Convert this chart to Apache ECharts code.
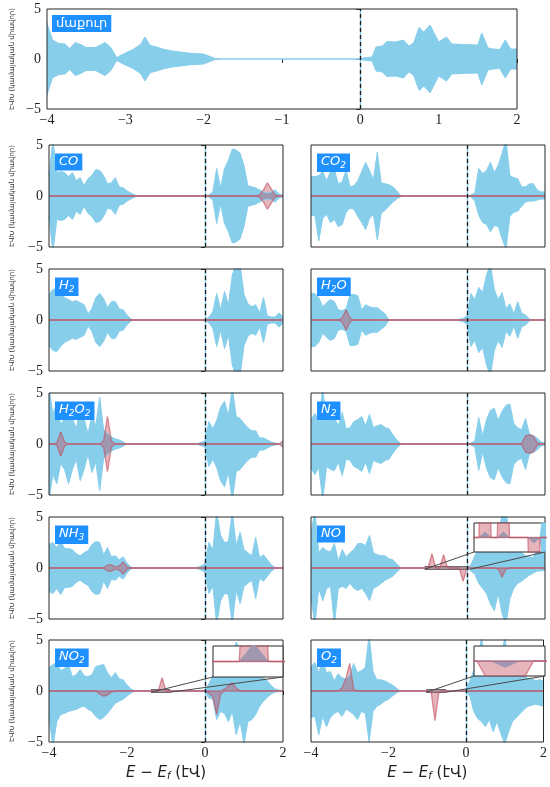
<!DOCTYPE html>
<html>
<head>
<meta charset="utf-8">
<script src="https://cdn.jsdelivr.net/npm/echarts@6/dist/echarts.min.js"></script>
<style>
  html, body { margin: 0; padding: 0; background: #fff; }
  #chart { width: 550px; height: 787px; }
</style>
</head>
<body>
<div id="chart"></div>
<script>
// Energy grid relative to the Fermi level (eV): -4.0 … -1.8 | -1.7 … -0.1 | 0.0 … 2.0
const energy = [
  -4.0,-3.9,-3.8,-3.7,-3.6,-3.5,-3.4,-3.3,-3.2,-3.1,-3.0,-2.9,-2.8,-2.7,-2.6,-2.5,-2.4,-2.3,-2.2,-2.1,-2.0,-1.9,-1.8,
  -1.7,-1.6,-1.5,-1.4,-1.3,-1.2,-1.1,-1.0,-0.9,-0.8,-0.7,-0.6,-0.5,-0.4,-0.3,-0.2,-0.1,
  0.0,0.1,0.2,0.3,0.4,0.5,0.6,0.7,0.8,0.9,1.0,1.1,1.2,1.3,1.4,1.5,1.6,1.7,1.8,1.9,2.0
];

// Clean surface (own, finer sampling)
const pristineEnergy = [-4.0,-3.93,-3.85,-3.77,-3.71,-3.64,-3.57,-3.5,-3.38,-3.26,-3.19,-3.11,-3.0,-2.9,-2.8,-2.75,-2.68,-2.6,-2.5,-2.4,-2.3,-2.2,-2.1,-2.0,-1.92,-1.85,-1.78,-0.05,0.0,0.08,0.15,0.2,0.28,0.34,0.45,0.55,0.62,0.68,0.75,0.81,0.89,1.0,1.1,1.17,1.3,1.5,1.55,1.63,1.7,1.78,1.85,1.92,2.0];
const pristineDos = [3.6,1.9,1.55,1.5,1.05,1.65,1.45,1.15,1.15,1.65,1.2,0.15,0.6,0.95,1.5,2.2,1.35,1.2,0.95,0.8,0.7,0.6,0.55,0.5,0.25,0.05,0,0,0.05,0.15,0.2,1.2,1.3,1.75,1.7,1.9,1.3,1.6,3.15,2.7,3.4,1.7,2.2,1.5,1.45,1.4,2.6,1.1,1.0,0.95,1.9,1.0,1.0];

// Total DOS of each adsorption system and the adsorbate projected DOS
const coDos = [
  2.0,5.5,2.3,2.4,2.3,1.9,2.3,1.5,1.8,1.0,1.7,2.0,2.6,2.5,2.0,1.2,1.3,1.8,0.9,0.8,0.5,0.3,0.1,
  0,0,0,0,0,0,0,0,0,0,0,0,0,0,0,0,0,
  0,0.1,0.4,2.7,0.8,2.7,3.5,4.6,4.5,4.2,3.0,1.0,0.9,0.8,0.6,0.4,0.3,0.4,0.6,0.2,0.1
];
const coPdos = [
  0,0,0,0,0,0,0,0,0,0,0,0,0,0,0,0,0,0,0,0,0,0,0,
  0,0,0,0,0,0,0,0,0,0,0,0,0,0,0,0,0,
  0,0,0,0,0,0,0,0,0,0,0,0,0,0,0.1,0.6,1.3,0.7,0.1,0,0
];
const co2Up = [
  1.9,1.9,2.0,2.4,1.5,2.4,2.6,1.2,1.4,2.5,0.9,1.0,1.5,2.4,3.3,2.5,1.6,4.3,1.3,1.2,1.1,0.9,0.5,
  0.05,0,0,0,0,0,0,0,0,0,0,0,0,0,0,0,0,
  0,0.1,0.3,2.7,2.2,2.5,3.3,2.3,3.0,4.2,5.5,2.0,1.8,1.7,0.9,0.9,1.2,1.2,0.6,0.4,0.4
];
const co2Down = [
  1.9,1.9,4.4,2.2,1.8,2.6,2.3,3.0,2.8,1.6,1.2,1.3,2.0,2.6,3.3,2.2,1.8,4.3,1.7,1.4,1.0,0.6,0.3,
  0.05,0,0,0,0,0,0,0,0,0,0,0,0,0,0,0,0,
  0,0.1,0.5,1.9,2.6,2.8,3.5,2.9,3.0,4.2,5.2,2.0,1.6,1.5,1.0,0.6,0.5,0.5,0.4,0.3,0.3
];
const flatPdos = [
  0,0,0,0,0,0,0,0,0,0,0,0,0,0,0,0,0,0,0,0,0,0,0,
  0,0,0,0,0,0,0,0,0,0,0,0,0,0,0,0,0,
  0,0,0,0,0,0,0,0,0,0,0,0,0,0,0,0,0,0,0,0,0
];
const h2Dos = [
  2.5,3.0,3.1,2.6,2.2,2.0,1.8,1.9,1.7,1.5,0.6,1.1,2.2,2.6,2.1,1.2,1.8,1.8,1.1,1.0,0.5,0.1,0,
  0,0,0,0,0,0,0,0,0,0,0,0,0,0,0,0,0,
  0,0.3,0.8,2.6,1.0,2.8,1.5,4.4,5.5,5.5,2.5,1.6,1.3,1.5,0.7,2.2,0.4,0.3,0.3,0.7,0.3
];
const h2oDos = [
  2.6,2.6,2.2,1.3,1.7,2.0,1.8,1.0,0.9,1.1,2.5,2.5,2.4,1.0,1.5,1.3,1.2,1.2,0.9,0.6,0,0,0,
  0,0,0,0,0,0,0,0,0,0,0,0,0,0,0,0.08,0.15,
  0.4,2.6,2.0,3.2,2.7,4.4,5.5,3.0,2.0,2.7,1.1,1.6,0.6,1.8,0.7,0.5,0.1,0,0,0,0
];
const h2oPdos = [
  0,0,0,0,0,0,0,0,0.2,1.0,0.2,0,0,0,0,0,0,0,0,0,0,0,0,
  0,0,0,0,0,0,0,0,0,0,0,0,0,0,0,0,0,
  0,0,0,0,0,0,0,0,0,0,0,0,0,0,0,0,0,0,0,0,0
];
const h2o2Dos = [
  5.5,3.0,3.9,1.9,2.5,3.9,2.5,1.5,3.6,2.5,1.0,2.8,1.8,4.6,1.4,1.0,0.7,0.5,0.4,0.2,0,0,0,
  0,0,0,0,0,0,0,0,0,0,0,0,0,0,0,0.05,0.15,
  0.3,2.2,1.5,2.3,3.6,4.2,2.8,5.5,2.7,2.5,2.0,1.6,1.3,1.3,0.6,0.6,0.4,0.2,0.1,0,0
];
const h2o2Pdos = [
  0,0,0.1,1.2,0.2,0,0,0,0,0,0,0,0,0,0.3,2.7,0.3,0,0,0,0,0,0,
  0,0,0,0,0,0,0,0,0,0,0,0,0,0,0,0,0,
  0,0,0,0,0,0,0,0,0,0,0,0,0,0,0,0,0,0,0,0,0.3
];
const n2Dos = [
  2.4,3.0,2.3,5.5,2.2,2.5,2.6,1.8,3.1,1.5,1.6,2.2,2.4,2.7,1.8,2.9,1.6,1.8,1.9,1.6,1.5,0.9,0.4,
  0.05,0,0,0,0,0,0,0,0,0,0,0,0,0,0,0,0,
  0,0.1,0.3,2.6,0.8,2.4,3.3,3.5,2.3,3.2,3.8,3.9,2.0,1.6,1.4,2.5,1.0,0.8,0.6,0.2,0.1
];
const n2Pdos = [
  0,0,0,0,0,0,0,0,0,0,0,0,0,0,0,0,0,0,0,0,0,0,0,
  0,0,0,0,0,0,0,0,0,0,0,0,0,0,0,0,0,
  0,0,0,0,0,0,0,0,0,0,0,0,0,0,0.05,0.8,0.9,0.8,0.1,0,0
];
const nh3Dos = [
  2.3,2.5,2.0,2.6,1.9,1.9,1.8,1.4,1.2,1.5,1.7,2.3,2.6,2.5,1.3,2.0,1.1,1.2,0.8,1.1,0.5,0.1,0,
  0,0,0,0,0,0,0,0,0,0,0,0,0,0,0,0.05,0.2,
  0.4,2.5,1.8,5.5,3.2,2.5,2.6,5.5,2.2,3.5,1.8,1.5,1.2,3.0,1.0,1.3,0.8,0.3,0.05,0,0
];
const nh3Pdos = [
  0,0,0,0,0,0,0,0,0,0,0,0,0,0,0,0.3,0.3,0.1,0.2,0.6,0.1,0,0,
  0,0,0,0,0,0,0,0,0,0,0,0,0,0,0,0,0,
  0,0,0,0,0,0,0,0,0,0,0,0,0,0,0,0,0,0,0,0,0
];
const noUp = [
  3.5,5.5,1.5,2.0,1.7,1.6,2.4,0.7,1.8,1.1,1.5,1.8,2.4,2.4,2.2,3.2,1.5,1.3,1.2,1.2,0.9,0.8,0.4,
  0,0,0,0,0,0,0,0,0.03,0,0,0.03,0,0,0,0,0,
  0,0.3,1.2,2.0,2.5,2.0,2.8,3.0,3.5,5.2,5.5,3.0,2.0,1.5,1.5,1.2,1.1,1.0,2.0,3.5,3.0
];
const noDown = [
  3.0,5.5,2.0,3.2,2.0,1.8,5.5,2.0,1.8,2.0,1.5,2.0,2.2,2.0,2.5,3.2,2.0,1.8,1.5,1.2,1.0,0.8,0.4,
  0,0,0,0,0,0,0,0,0,0,0,0,0,0,0,0,0.03,
  0,0.3,0.6,1.5,2.0,2.5,3.5,4.2,2.5,4.5,5.5,3.0,2.0,1.5,1.3,1.0,0.7,0.5,0.3,0.3,0.2
];
const noPdosUp = [
  0,0,0,0,0,0,0,0,0,0,0,0,0,0,0,0,0,0,0,0,0,0,0,
  0,0,0,0,0,0,0,0,1.4,0,0,1.3,0,0,0,0,0,
  0,0,0,0,0,0,0,0,0,0,0,0,0,0,0,0,0,0,0,0,0
];
const noPdosDown = [
  0,0,0,0,0,0,0,0,0,0,0,0,0,0,0,0,0,0,0,0,0,0,0,
  0,0,0,0,0,0,0,0,0,0,0,0,0,0,0,0,1.3,
  0,0,0,0,0,0,0,0,0.1,0.9,0.1,0,0,0,0,0,0,0,0,0,0
];
const no2Up = [
  2.3,2.6,2.8,2.0,2.2,2.6,1.4,1.6,2.1,1.5,1.4,1.6,2.4,2.5,2.6,1.8,1.3,1.8,1.2,1.1,0.6,0.2,0,
  0,0,0,0,0,0,0.08,0,0,0,0,0,0,0,0,0,0,
  0.1,0.7,1.5,2.0,2.5,2.8,3.0,3.5,4.8,4.0,3.0,2.5,2.0,1.6,1.5,1.3,1.0,0.5,0.2,0.1,0
];
const no2Down = [
  2.5,5.5,3.0,2.3,2.2,2.0,1.9,1.8,1.6,1.5,1.8,2.0,2.5,2.8,2.6,2.2,1.7,1.2,1.0,0.8,0.5,0.2,0,
  0,0,0,0,0,0,0,0,0,0,0,0,0,0,0,0,0,
  0.1,0.7,0.8,2.8,2.0,2.2,3.0,2.0,4.3,3.0,5.2,3.0,2.8,2.3,1.5,1.0,0.6,0.3,0.1,0.05,0
];
const no2PdosUp = [
  0,0,0,0,0,0,0,0,0,0,0,0,0,0,0,0,0,0,0,0,0,0,0,
  0,0,0,0,0,0,1.3,0,0,0,0,0,0,0,0,0,0,
  0,0,0,0,0,0.2,0.5,0.8,0.3,0,0,0,0,0,0,0,0,0,0,0,0
];
const no2PdosDown = [
  0,0,0,0,0,0,0,0,0,0,0,0,0,0.3,0.5,0.4,0.1,0,0,0,0,0,0,
  0,0,0,0,0,0,0,0,0,0,0,0,0,0,0,0,0,
  0,0.2,0.6,2.3,0.3,0,0,0,0,0,0,0,0,0,0,0,0,0,0,0,0
];
const o2Up = [
  2.4,2.8,1.8,3.0,1.8,1.9,1.0,1.7,1.3,1.2,1.5,2.7,1.8,2.0,2.3,5.5,1.9,1.1,1.1,1.0,0.8,0.6,0.3,
  0,0,0,0,0,0,0,0,0,0,0,0,0,0,0,0,0,
  0.2,1.0,2.0,3.0,5.2,3.0,2.5,3.0,3.5,3.0,5.3,2.5,2.0,2.0,1.5,1.5,1.2,1.2,1.0,1.1,1.0
];
const o2Down = [
  2.6,2.5,4.3,2.5,3.5,2.6,2.2,2.0,2.5,1.8,2.0,2.3,2.8,2.0,2.2,5.0,2.0,1.5,1.3,1.0,0.8,0.5,0.2,
  0,0,0,0,0,0,0,0,0,0.025,0,0,0,0,0,0,0,
  0.1,0.5,2.0,2.7,3.0,3.5,2.8,4.0,3.0,4.2,5.2,4.0,3.0,2.6,2.2,1.8,1.5,1.4,1.3,1.4,1.5
];
const o2PdosUp = [
  0,0,0,0,0,0,0,0,0.3,1.2,2.7,0.2,0,0,0,0,0,0,0,0,0,0,0,
  0,0,0,0,0,0,0,0,0,0,0,0,0,0,0,0,0,
  0,0,0,0,0,0,0,0,0,0,0,0,0,0,0,0,0,0,0,0,0
];
const o2PdosDown = [
  0,0,0,0,0,0,0,0,0,0,0,0,0,0,0,0,0,0,0,0,0,0,0,
  0,0,0,0,0,0,0,0,0.1,2.9,0.1,0,0,0,0,0,0,
  0,0,0,0,0,0,0,0,0,0,0,0,0,0,0,0,0,0,0,0,0
];

// Axis texts
const DOS_LABEL = 'ԷՎԽ (կամայական միավոր)';
const ENERGY_LABEL = '{i|E} \u2212 {i|E}{s|f} (էՎ)';
const CLEAN_TAG = '{a|մաքուր}';

// Styling
const SKY = '#87ceeb';
const PINK_LINE = 'rgba(196,78,96,0.62)';
const PINK_FILL = 'rgba(196,78,96,0.42)';
const FRAME = '#262626';
const SERIF = 'Liberation Serif';
const SANS = 'DejaVu Sans';

// Layout of the small multiples
const COL_LEFT = [49, 311];
const ROW_TOP = [145, 269, 393, 517, 640];
const PANEL_W = 234, PANEL_H = 102;

const panels = [
  { tag: '{m|CO}', up: coDos, down: coDos, pUp: coPdos, pDown: coPdos, row: 0, col: 0 },
  { tag: '{m|CO}{s|2}', up: co2Up, down: co2Down, pUp: flatPdos, pDown: flatPdos, row: 0, col: 1 },
  { tag: '{m|H}{s|2}', up: h2Dos, down: h2Dos, pUp: flatPdos, pDown: flatPdos, row: 1, col: 0 },
  { tag: '{m|H}{s|2}{m|O}', up: h2oDos, down: h2oDos, pUp: h2oPdos, pDown: h2oPdos, row: 1, col: 1 },
  { tag: '{m|H}{s|2}{m|O}{s|2}', up: h2o2Dos, down: h2o2Dos, pUp: h2o2Pdos, pDown: h2o2Pdos, row: 2, col: 0 },
  { tag: '{m|N}{s|2}', up: n2Dos, down: n2Dos, pUp: n2Pdos, pDown: n2Pdos, row: 2, col: 1 },
  { tag: '{m|NH}{s|3}', up: nh3Dos, down: nh3Dos, pUp: nh3Pdos, pDown: nh3Pdos, row: 3, col: 0 },
  { tag: '{m|NO}', up: noUp, down: noDown, pUp: noPdosUp, pDown: noPdosDown, row: 3, col: 1,
    inset: { box: { left: 474, top: 523, width: 71, height: 29 }, x: [-1.08, 0.08], y: [-0.08, 0.08], mark: 0.12 } },
  { tag: '{m|NO}{s|2}', up: no2Up, down: no2Down, pUp: no2PdosUp, pDown: no2PdosDown, row: 4, col: 0,
    inset: { box: { left: 213, top: 646, width: 70, height: 31 }, x: [-1.38, -0.9], y: [-0.07, 0.07], mark: 0.12 } },
  { tag: '{m|O}{s|2}', up: o2Up, down: o2Down, pUp: o2PdosUp, pDown: o2PdosDown, row: 4, col: 1,
    inset: { box: { left: 474, top: 646, width: 71, height: 30 }, x: [-1.02, -0.52], y: [-0.06, 0.06], mark: 0.12 } }
];

const fmt = v => (v < 0 ? '\u2212' + Math.abs(v) : String(v));
const pts = (xs, ys, sign) => xs.map((x, i) => [x, sign * ys[i]]);

const grid = [], xAxis = [], yAxis = [], series = [], title = [];

const zeroLine = {
  silent: true, symbol: ['none', 'none'], label: { show: false }, animation: false,
  data: [
    { xAxis: 0, lineStyle: { color: '#7cc4e8', width: 1.3, type: 'solid' } },
    { xAxis: 0, lineStyle: { color: '#1a1a1a', width: 1.3, type: [4, 3] } }
  ]
};

function fill(g, data, fillColor, lineColor, lw, z, extra) {
  return Object.assign({
    type: 'line', xAxisIndex: g, yAxisIndex: g, data, showSymbol: false, symbol: 'none',
    silent: true, clip: true, z, animation: false,
    lineStyle: { color: lineColor, width: lw },
    areaStyle: { color: fillColor, opacity: 1 }
  }, extra || {});
}

function mainAxes(g, o) {
  xAxis.push({
    gridIndex: g, type: 'value', min: -4, max: 2, interval: o.xInterval,
    axisLine: { show: false }, splitLine: { show: false },
    axisTick: { show: o.xLabels, length: 4, lineStyle: { color: FRAME } },
    axisLabel: { show: o.xLabels, formatter: fmt, fontFamily: SERIF, fontSize: 14, color: '#222', margin: 4 },
    name: o.xName || '', nameLocation: 'middle', nameGap: 24,
    nameTextStyle: {
      fontFamily: SANS, fontSize: 15, color: '#222',
      rich: {
        i: { fontFamily: SANS, fontStyle: 'italic', fontSize: 15, color: '#222' },
        s: { fontFamily: SANS, fontStyle: 'italic', fontSize: 10, color: '#222', lineHeight: 10, verticalAlign: 'bottom' }
      }
    }
  });
  yAxis.push({
    gridIndex: g, type: 'value', min: -5, max: 5, interval: 5,
    axisLine: { show: false }, splitLine: { show: false },
    axisTick: { show: o.yLabels, length: 4, lineStyle: { color: FRAME } },
    axisLabel: { show: o.yLabels, formatter: fmt, fontFamily: SERIF, fontSize: 14, color: '#222', margin: 6 },
    name: o.yLabels ? DOS_LABEL : '', nameLocation: 'middle', nameRotate: 90, nameGap: o.yGap || 33,
    nameTextStyle: { fontFamily: SANS, fontSize: 7, color: '#333' }
  });
}

const TAG_RICH = {
  m: { fontFamily: SANS, fontStyle: 'italic', fontWeight: 'normal', fontSize: 13, color: '#fff', lineHeight: 16 },
  s: { fontFamily: SANS, fontStyle: 'italic', fontWeight: 'normal', fontSize: 9, color: '#fff', lineHeight: 9, verticalAlign: 'bottom' },
  a: { fontFamily: SANS, fontWeight: 'normal', fontSize: 13, color: '#fff', lineHeight: 17 }
};
const TAG_STYLE = { fontWeight: 'normal', rich: TAG_RICH };

// Clean-surface panel across the full width
grid.push({ left: 47, top: 9, width: 470, height: 100, show: true, borderColor: FRAME, borderWidth: 1, backgroundColor: 'transparent', z: 3 });
mainAxes(0, { xInterval: 1, xLabels: true, yLabels: true, yGap: 31 });
series.push(fill(0, pts(pristineEnergy, pristineDos, 1), SKY, SKY, 1, 2));
series.push(fill(0, pts(pristineEnergy, pristineDos, -1), SKY, SKY, 1, 2, { markLine: zeroLine }));
title.push({ left: 52, top: 13, text: CLEAN_TAG, backgroundColor: '#1e90ff', padding: [2, 4, 2, 4], z: 20, textStyle: TAG_STYLE });

// Adsorption panels
const insetDefs = [];
panels.forEach((p, i) => {
  const g = i + 1;
  const left = COL_LEFT[p.col], top = ROW_TOP[p.row];
  const bottomRow = p.row === ROW_TOP.length - 1;
  grid.push({ left, top, width: PANEL_W, height: PANEL_H, show: true, borderColor: FRAME, borderWidth: 1, backgroundColor: 'transparent', z: 3 });
  mainAxes(g, { xInterval: 2, xLabels: bottomRow, yLabels: p.col === 0, xName: bottomRow ? ENERGY_LABEL : '' });
  series.push(fill(g, pts(energy, p.up, 1), SKY, SKY, 1, 2));
  series.push(fill(g, pts(energy, p.down, -1), SKY, SKY, 1, 2));
  const pinkUp = fill(g, pts(energy, p.pUp, 1), PINK_FILL, PINK_LINE, 1.3, 2);
  if (p.inset) {
    pinkUp.markArea = {
      silent: true,
      itemStyle: { color: 'rgba(0,0,0,0)', borderColor: '#333', borderWidth: 1 },
      data: [[{ coord: [p.inset.x[0], -p.inset.mark] }, { coord: [p.inset.x[1], p.inset.mark] }]]
    };
  }
  series.push(pinkUp);
  series.push(fill(g, pts(energy, p.pDown, -1), PINK_FILL, PINK_LINE, 1.3, 2, { markLine: zeroLine }));
  title.push({ left: left + 6, top: top + 7, text: p.tag, backgroundColor: '#1e90ff', padding: [2, 4, 2, 4], z: 20, textStyle: TAG_STYLE });
  if (p.inset) insetDefs.push(Object.assign({ main: g, p }, p.inset));
});

// Magnified windows around the small adsorbate states
insetDefs.forEach(d => {
  const g = grid.length;
  d.grid = g;
  grid.push(Object.assign({ show: true, backgroundColor: '#fff', borderColor: FRAME, borderWidth: 1, z: 10 }, d.box));
  xAxis.push({ gridIndex: g, type: 'value', min: d.x[0], max: d.x[1], show: false, splitLine: { show: false } });
  yAxis.push({ gridIndex: g, type: 'value', min: d.y[0], max: d.y[1], show: false, splitLine: { show: false } });
  series.push(fill(g, pts(energy, d.p.up, 1), SKY, SKY, 1, 11));
  series.push(fill(g, pts(energy, d.p.down, -1), SKY, SKY, 1, 11));
  series.push(fill(g, pts(energy, d.p.pUp, 1), PINK_FILL, PINK_LINE, 1.3, 12));
  series.push(fill(g, pts(energy, d.p.pDown, -1), PINK_FILL, PINK_LINE, 1.3, 12));
});

const chart = echarts.init(document.getElementById('chart'), null, { renderer: 'canvas' });
chart.setOption({ animation: false, backgroundColor: '#fff', grid, xAxis, yAxis, series, title });

// Connector lines between each marked window and its magnified view
const connectors = [];
insetDefs.forEach(d => {
  [0, 1].forEach(k => {
    const a = chart.convertToPixel({ gridIndex: d.main }, [d.x[k], -d.mark]);
    const b = chart.convertToPixel({ gridIndex: d.grid }, [d.x[k], d.y[0]]);
    connectors.push({
      type: 'line', silent: true, z: 100,
      shape: { x1: a[0], y1: a[1], x2: b[0], y2: b[1] },
      style: { stroke: '#4a4a4a', lineWidth: 1 }
    });
  });
});
chart.setOption({ graphic: connectors });
</script>
</body>
</html>
